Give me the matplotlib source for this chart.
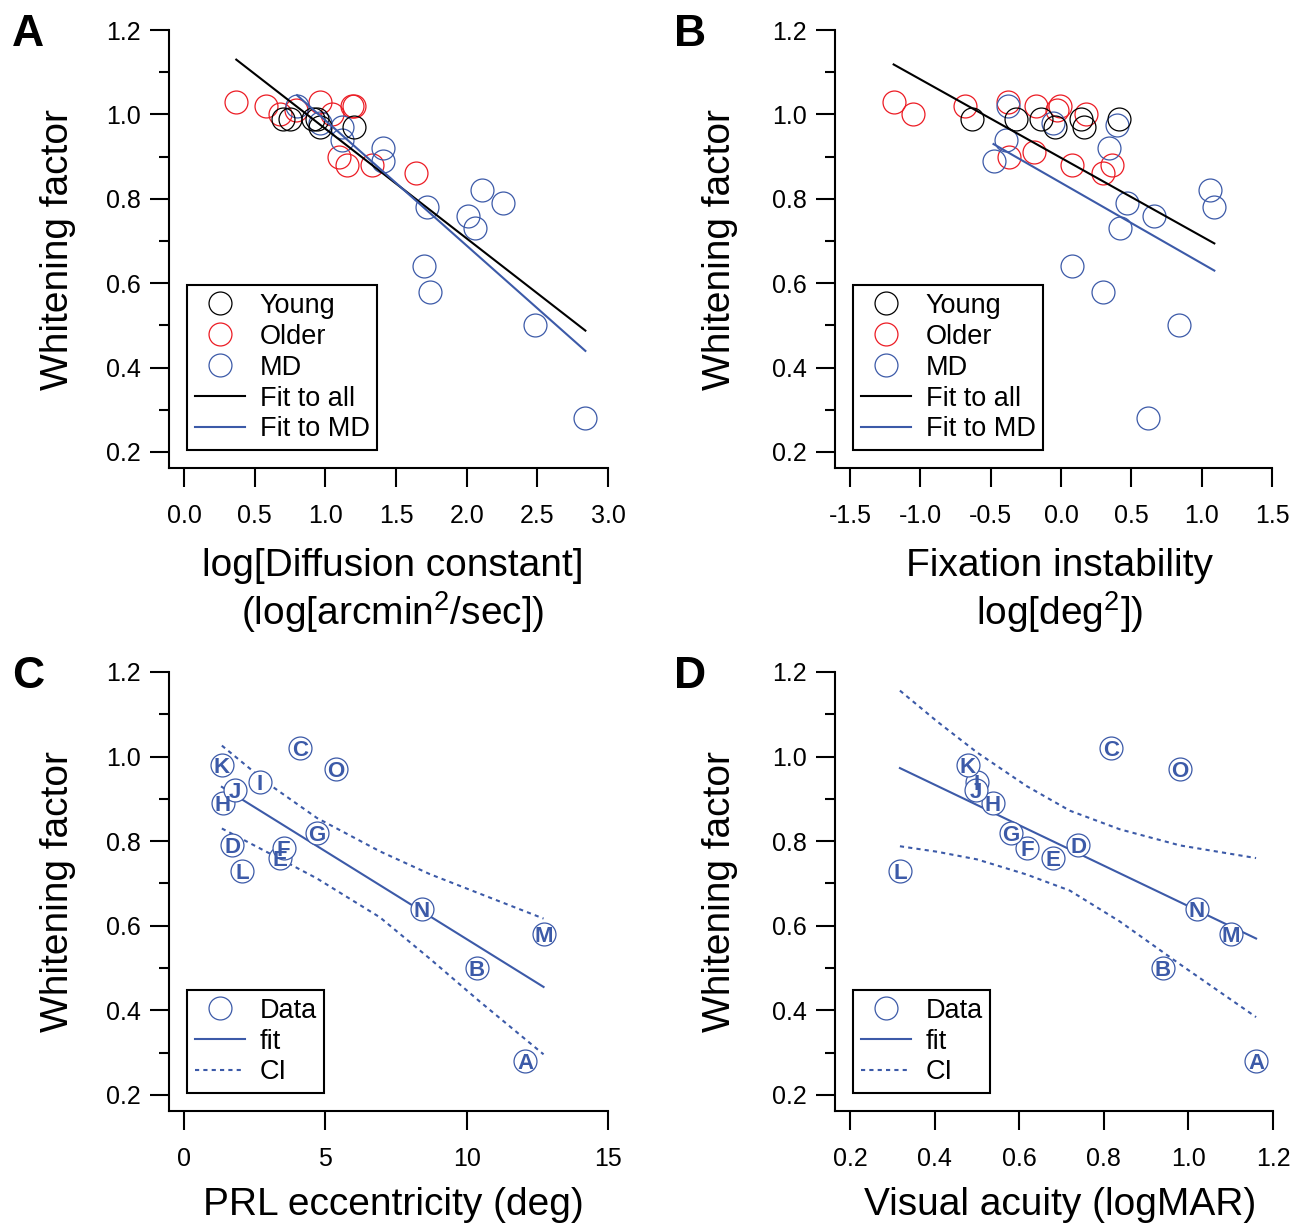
import matplotlib
matplotlib.use("Agg")
import matplotlib.pyplot as plt
from matplotlib.lines import Line2D
from matplotlib.ticker import MultipleLocator, FormatStrFormatter

plt.rcParams['font.family'] = ['Liberation Sans', 'DejaVu Sans']
plt.rcParams['mathtext.default'] = 'regular'

# colours
BLACK = 'black'
RED = '#ec1c24'
BLUE = '#3c5aa8'

# ---- panel A: whitening factor vs log diffusion constant ----
a_young_x = [0.70, 0.75, 0.91, 0.94, 0.96, 1.20]
a_young_y = [0.99, 0.99, 0.99, 0.99, 0.97, 0.97]
a_older_x = [0.37, 0.58, 0.68, 0.79, 0.96, 1.05, 1.19, 1.20, 1.10, 1.15, 1.33, 1.64]
a_older_y = [1.03, 1.02, 1.00, 1.01, 1.03, 1.00, 1.02, 1.02, 0.90, 0.88, 0.88, 0.86]
a_md_x = [0.80, 0.96, 1.12, 1.12, 1.41, 1.41, 2.11, 1.72, 2.26, 2.01, 2.06, 1.70, 1.74, 2.48, 2.84]
a_md_y = [1.02, 0.98, 0.97, 0.94, 0.92, 0.89, 0.82, 0.78, 0.79, 0.76, 0.73, 0.64, 0.58, 0.50, 0.28]
a_fit_all = (1.226, -0.260)   # intercept, slope
a_fit_md = (1.283, -0.297)

# ---- panel B: whitening factor vs fixation instability ----
b_young_x = [-0.63, -0.32, -0.14, -0.04, 0.14, 0.16, 0.41]
b_young_y = [0.99, 0.99, 0.99, 0.97, 0.99, 0.97, 0.99]
b_older_x = [-1.19, -1.05, -0.68, -0.38, -0.18, -0.01, -0.03, 0.18, -0.37, -0.19, 0.08, 0.30, 0.36]
b_older_y = [1.03, 1.00, 1.02, 1.03, 1.02, 1.02, 1.01, 1.00, 0.90, 0.91, 0.88, 0.86, 0.88]
b_md_x = [-0.38, -0.06, 0.40, -0.39, 0.34, -0.48, 1.06, 0.47, 1.09, 0.66, 0.42, 0.08, 0.30, 0.84, 0.62]
b_md_y = [1.02, 0.98, 0.975, 0.94, 0.92, 0.89, 0.82, 0.79, 0.78, 0.76, 0.73, 0.64, 0.58, 0.50, 0.28]
b_fit_all = (0.897, -0.186)
b_fit_md = (0.838, -0.191)

# ---- panels C and D: MD patients ----
md_letters = ['A', 'B', 'C', 'D', 'E', 'F', 'G', 'H', 'I', 'J', 'K', 'L', 'M', 'N', 'O']
md_wf = [0.28, 0.50, 1.02, 0.79, 0.76, 0.785, 0.82, 0.89, 0.94, 0.92, 0.98, 0.73, 0.58, 0.64, 0.97]
prl_ecc = [12.08, 10.35, 4.10, 1.70, 3.39, 3.53, 4.70, 1.38, 2.69, 1.80, 1.34, 2.05, 12.72, 8.41, 5.37]
acuity = [1.16, 0.94, 0.817, 0.739, 0.68, 0.618, 0.58, 0.538, 0.50, 0.498, 0.479, 0.318, 1.10, 1.02, 0.98]

c_fit = (0.984, -0.04156)
c_ci_x = [1.34, 3.0, 4.7, 6.93, 8.7, 10.46, 12.72]
c_ci_hi = [1.026, 0.935, 0.855, 0.776, 0.722, 0.676, 0.617]
c_ci_lo = [0.830, 0.772, 0.712, 0.620, 0.522, 0.421, 0.296]

d_fit = (1.125, -0.4786)
d_ci_x = [0.318, 0.406, 0.50, 0.618, 0.72, 0.838, 0.98, 1.16]
d_ci_hi = [1.156, 1.083, 1.010, 0.930, 0.872, 0.828, 0.790, 0.760]
d_ci_lo = [0.788, 0.775, 0.757, 0.721, 0.683, 0.610, 0.509, 0.384]

W, H = 1302, 1226
fig = plt.figure(figsize=(W / 100, H / 100), dpi=100)

MS = 16.5
TICK_FS = 18
LAB_FS = 28
LEG_FS = 19.5


def px(x, y):
    return x / W, 1 - y / H


def make_axes(left, top, right, bottom):
    l, t = px(left, top)
    r, b = px(right, bottom)
    ax = fig.add_axes([l, b, r - l, t - b])
    for s in ['top', 'right']:
        ax.spines[s].set_visible(False)
    for s in ['left', 'bottom']:
        ax.spines[s].set_linewidth(1.5)
    ax.tick_params(which='major', length=14, width=1.5, labelsize=TICK_FS)
    ax.tick_params(which='minor', length=7, width=1.5)
    ax.tick_params(axis='y', pad=6)
    ax.tick_params(axis='x', pad=12)
    ax.set_ylim(0.162, 1.2)
    ax.yaxis.set_major_locator(MultipleLocator(0.2))
    ax.yaxis.set_minor_locator(MultipleLocator(0.1))
    ax.yaxis.set_major_formatter(FormatStrFormatter('%.1f'))
    return ax


def fit_line(ax, xs, fit, color, **kw):
    x0, x1 = min(xs), max(xs)
    a, b = fit
    ax.plot([x0, x1], [a + b * x0, a + b * x1], color=color, lw=1.5, **kw)


def group_legend(ax):
    handles = [
        Line2D([], [], ls='none', marker='o', mfc='none', mec=BLACK, ms=MS, mew=0.9),
        Line2D([], [], ls='none', marker='o', mfc='none', mec=RED, ms=MS, mew=0.9),
        Line2D([], [], ls='none', marker='o', mfc='none', mec=BLUE, ms=MS, mew=0.9),
        Line2D([], [], color=BLACK, lw=1.5),
        Line2D([], [], color=BLUE, lw=1.5),
    ]
    labels = ['Young', 'Older', 'MD', 'Fit to all', 'Fit to MD']
    leg = ax.legend(handles, labels, loc='lower left', bbox_to_anchor=(0.041, 0.041),
                    borderaxespad=0, fontsize=LEG_FS, fancybox=False, framealpha=1,
                    edgecolor='black', handlelength=1.85, handletextpad=0.55,
                    labelspacing=0.18, borderpad=0.28)
    leg.get_frame().set_linewidth(1.5)


def md_legend(ax):
    handles = [
        Line2D([], [], ls='none', marker='o', mfc='none', mec=BLUE, ms=MS, mew=0.9),
        Line2D([], [], color=BLUE, lw=1.5),
        Line2D([], [], color=BLUE, lw=1.5, ls=(0, (2, 2))),
    ]
    leg = ax.legend(handles, ['Data', 'fit', 'CI'], loc='lower left',
                    bbox_to_anchor=(0.041, 0.041), borderaxespad=0, fontsize=LEG_FS,
                    fancybox=False, framealpha=1, edgecolor='black',
                    handlelength=1.85, handletextpad=0.55, labelspacing=0.18,
                    borderpad=0.28)
    leg.get_frame().set_linewidth(1.5)


def group_scatter(ax, yx, yy, ox, oy, mx, my):
    ax.plot(ox, oy, ls='none', marker='o', mfc='none', mec=RED, ms=MS, mew=0.9)
    ax.plot(mx, my, ls='none', marker='o', mfc='none', mec=BLUE, ms=MS, mew=0.9)
    ax.plot(yx, yy, ls='none', marker='o', mfc='none', mec=BLACK, ms=MS, mew=0.9)


def letter_scatter(ax, xs):
    ax.plot(xs, md_wf, ls='none', marker='o', mfc='white', mec=BLUE, ms=MS, mew=0.9)
    for x, y, s in zip(xs, md_wf, md_letters):
        ax.text(x, y, s, ha='center', va='center_baseline', fontsize=16,
                fontweight='bold', color=BLUE)


# Panel A
axA = make_axes(169, 30, 608, 468)
axA.set_xlim(-0.106, 3.0)
axA.xaxis.set_major_locator(MultipleLocator(0.5))
axA.xaxis.set_major_formatter(FormatStrFormatter('%.1f'))
group_scatter(axA, a_young_x, a_young_y, a_older_x, a_older_y, a_md_x, a_md_y)
fit_line(axA, a_young_x + a_older_x + a_md_x, a_fit_all, BLACK)
fit_line(axA, a_md_x, a_fit_md, BLUE)
group_legend(axA)

# Panel B
axB = make_axes(835, 30, 1272, 468)
axB.set_xlim(-1.607, 1.5)
axB.xaxis.set_major_locator(MultipleLocator(0.5))
axB.xaxis.set_major_formatter(FormatStrFormatter('%.1f'))
group_scatter(axB, b_young_x, b_young_y, b_older_x, b_older_y, b_md_x, b_md_y)
fit_line(axB, b_young_x + b_older_x + b_md_x, b_fit_all, BLACK)
fit_line(axB, b_md_x, b_fit_md, BLUE)
group_legend(axB)

# Panel C
axC = make_axes(169, 672, 608, 1111)
axC.set_xlim(-0.53, 15)
axC.xaxis.set_major_locator(MultipleLocator(5))
axC.xaxis.set_major_formatter(FormatStrFormatter('%d'))
fit_line(axC, prl_ecc, c_fit, BLUE)
axC.plot(c_ci_x, c_ci_hi, color=BLUE, lw=1.5, ls=(0, (2, 2)))
axC.plot(c_ci_x, c_ci_lo, color=BLUE, lw=1.5, ls=(0, (2, 2)))
letter_scatter(axC, prl_ecc)
md_legend(axC)

# Panel D
axD = make_axes(835, 672, 1273, 1111)
axD.set_xlim(0.1645, 1.2)
axD.xaxis.set_major_locator(MultipleLocator(0.2))
axD.xaxis.set_major_formatter(FormatStrFormatter('%.1f'))
fit_line(axD, acuity, d_fit, BLUE)
axD.plot(d_ci_x, d_ci_hi, color=BLUE, lw=1.5, ls=(0, (2, 2)))
axD.plot(d_ci_x, d_ci_lo, color=BLUE, lw=1.5, ls=(0, (2, 2)))
letter_scatter(axD, acuity)
md_legend(axD)

# axis labels and panel letters
for (x, y) in [(58, 250), (720, 250), (58, 892), (720, 892)]:
    fig.text(*px(x, y), 'Whitening factor', rotation=90, ha='center', va='center',
             fontsize=LAB_FS)

fig.text(*px(393, 566), 'log[Diffusion constant]', ha='center', va='center', fontsize=LAB_FS)
fig.text(*px(393, 612), '(log[arcmin$^{2}$/sec])', ha='center', va='center', fontsize=LAB_FS)
fig.text(*px(1060, 566), 'Fixation instability', ha='center', va='center', fontsize=LAB_FS)
fig.text(*px(1060, 612), 'log[deg$^{2}$])', ha='center', va='center', fontsize=LAB_FS)
fig.text(*px(393, 1205), 'PRL eccentricity (deg)', ha='center', va='center', fontsize=LAB_FS)
fig.text(*px(1060, 1205), 'Visual acuity (logMAR)', ha='center', va='center', fontsize=LAB_FS)

for (x, y, s) in [(28, 35, 'A'), (690, 35, 'B'), (28, 676, 'C'), (690, 676, 'D')]:
    fig.text(*px(x, y), s, ha='center', va='center', fontsize=32, fontweight='bold')

fig.savefig('out.png', dpi=100)
